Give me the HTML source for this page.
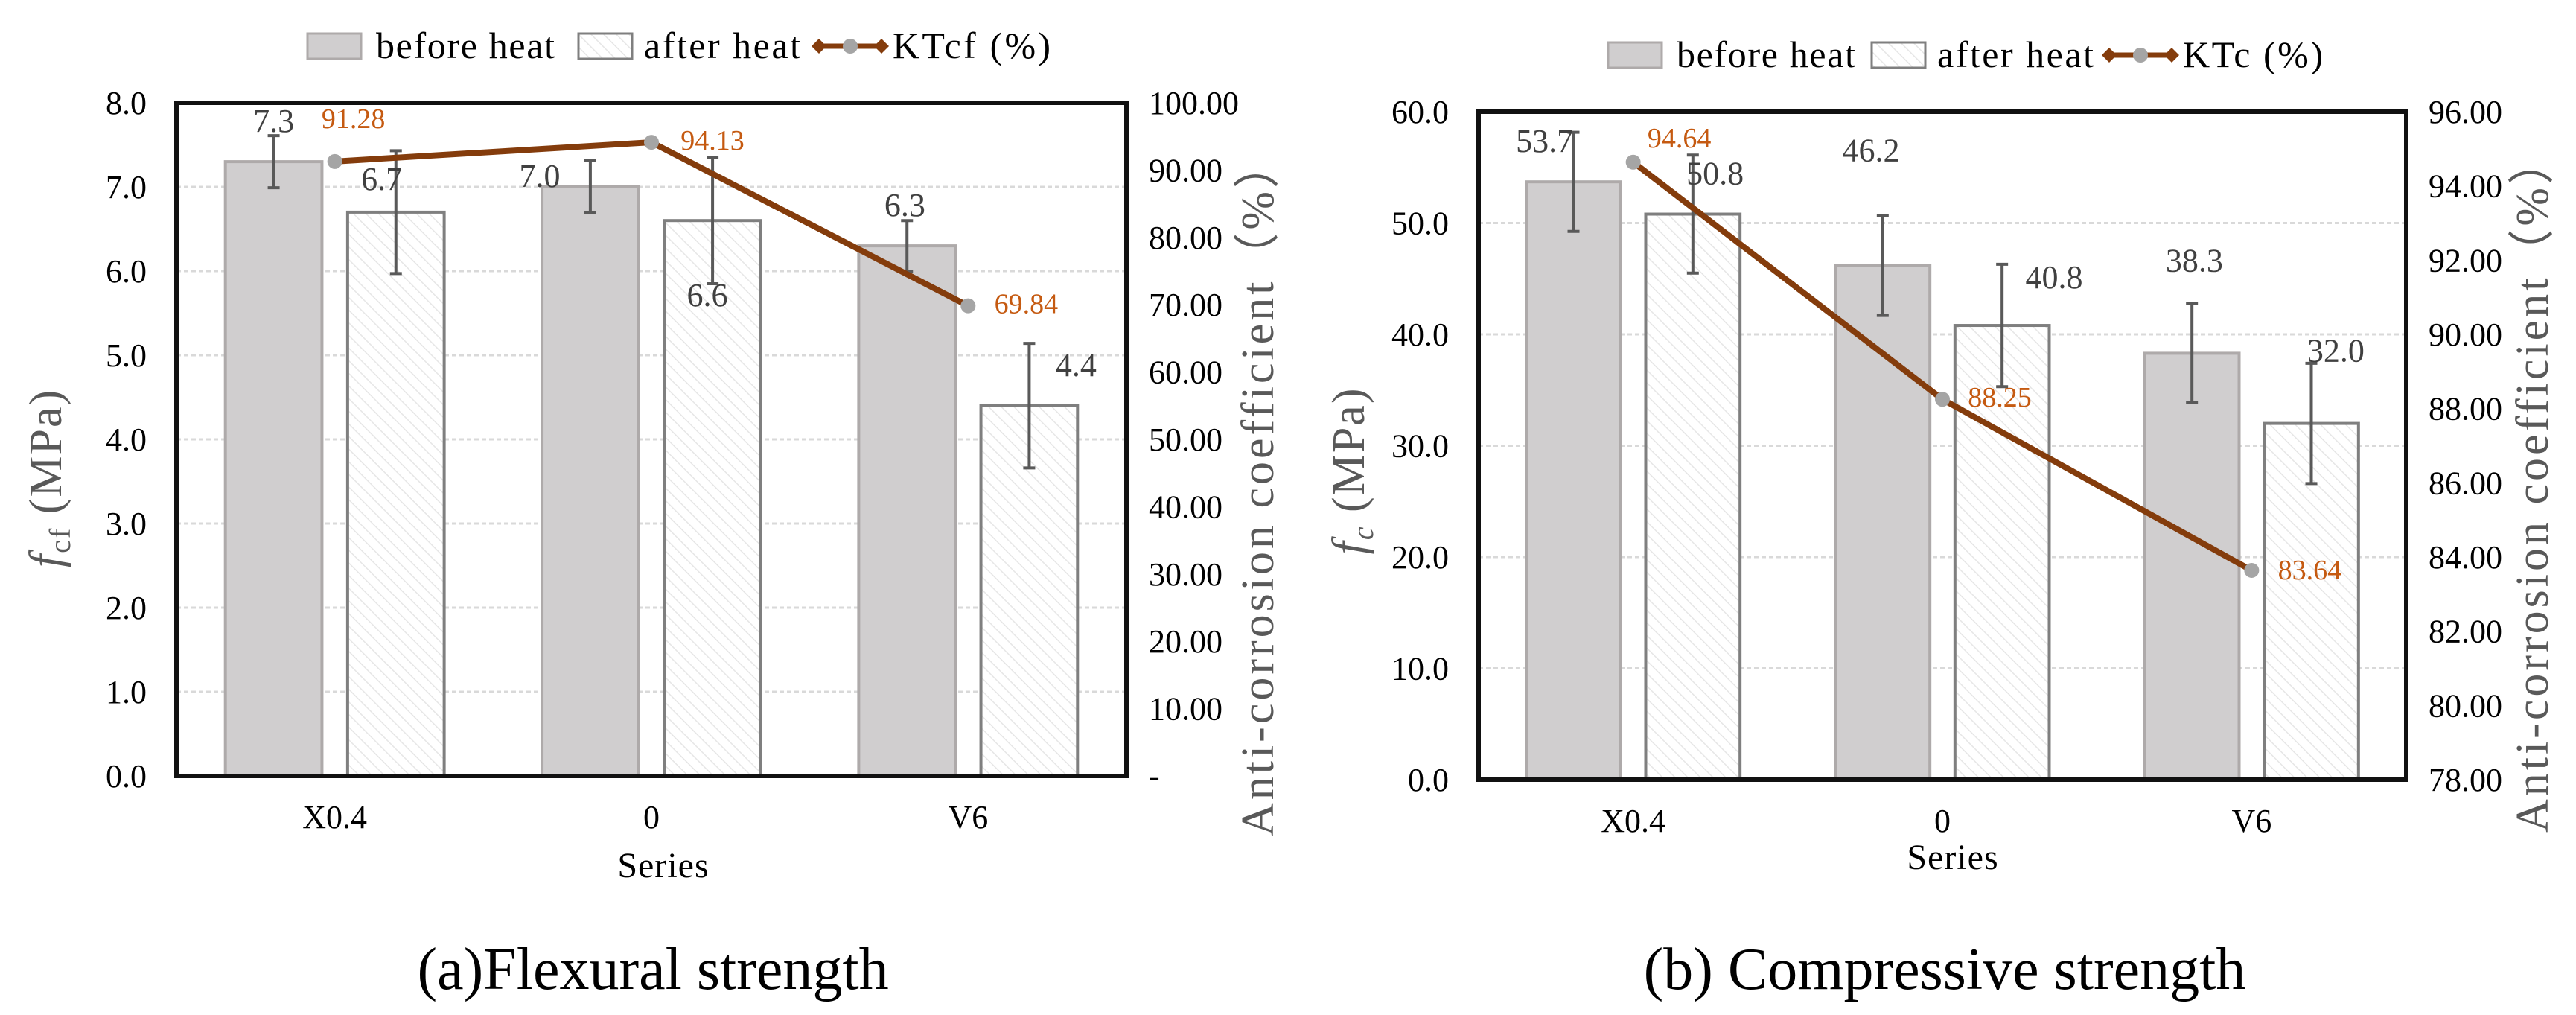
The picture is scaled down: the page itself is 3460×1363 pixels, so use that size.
<!DOCTYPE html>
<html><head><meta charset="utf-8"><style>
html,body{margin:0;padding:0;background:#fff;}
svg, svg text{font-family:"Liberation Serif","Times New Roman",serif;}
</style></head><body>
<svg id="svg" width="3460" height="1358" viewBox="0 0 3460 1358" xmlns="http://www.w3.org/2000/svg" font-family="Liberation Serif, serif">
<defs>
<pattern id="hatch" patternUnits="userSpaceOnUse" width="12" height="12" patternTransform="rotate(-45)">
<rect width="12" height="12" fill="#fff"/><line x1="0" y1="0" x2="0" y2="12" stroke="#e6e6e6" stroke-width="3"/>
</pattern>
</defs>
</svg>
<script>
const categories = ["X0.4", "0", "V6"];
const flexBefore = [7.3, 7.0, 6.3];
const flexAfter = [6.7, 6.6, 4.4];
const flexBeforeErr = [0.31, 0.31, 0.30];
const flexAfterErr = [0.73, 0.75, 0.74];
const flexKT = [91.28, 94.13, 69.84];
const flexLeftTicks = [0, 1, 2, 3, 4, 5, 6, 7, 8];
const flexRightTicks = [0, 10, 20, 30, 40, 50, 60, 70, 80, 90, 100];
const compBefore = [53.7, 46.2, 38.3];
const compAfter = [50.8, 40.8, 32.0];
const compBeforeErr = [4.45, 4.5, 4.45];
const compAfterErr = [5.3, 5.5, 5.4];
const compKT = [94.64, 88.25, 83.64];
const compLeftTicks = [0, 10, 20, 30, 40, 50, 60];
const compRightTicks = [78, 80, 82, 84, 86, 88, 90, 92, 94, 96];

const NS = "http://www.w3.org/2000/svg";
const svg = document.getElementById("svg");
function mk(tag, attrs, parent, text) {
  const e = document.createElementNS(NS, tag);
  for (const k in attrs) e.setAttribute(k, attrs[k]);
  if (tag === "text") e.setAttribute("font-family", "Liberation Serif, Noto Serif CJK SC, serif");
  if (text !== undefined) e.textContent = text;
  (parent || svg).appendChild(e);
  return e;
}

function drawChart(cfg) {
  const g = mk("g", {});
  
  
  const {L, R, T, B} = cfg;
  const yL = v => B - (v - cfg.lMin) / (cfg.lMax - cfg.lMin) * (B - T);
  const yR = v => B - (v - cfg.rMin) / (cfg.rMax - cfg.rMin) * (B - T);
  const cw = (R - L) / categories.length;
  const xC = i => L + cw * (i + 0.5);
  const bw = cw * 0.305, off = cw * 0.193;

  cfg.lTicks.forEach(t => {
    if (t === cfg.lMin || t === cfg.lMax) return;
    const gl = mk("line", {x1: L, x2: R, y1: yL(t), y2: yL(t), stroke: "#d9d9d9", "stroke-width": 3, "stroke-dasharray": "6 4"}, g);
    
    
  });
  cfg.lTicks.forEach(t => {
    const tl = mk("text", {x: L - 40, y: yL(t) + 15, "text-anchor": "end", "font-size": 44, fill: "#000"}, g, t.toFixed(1));
    
    
  });
  cfg.rTicks.forEach(t => {
    const s = (t === 0) ? "-" : t.toFixed(2);
    const tl = mk("text", {x: R + 30, y: yR(t) + 15, "font-size": 44, fill: "#000"}, g, s);
    
    
  });
  categories.forEach((c, i) => {
    const b1 = cfg.before[i], b2 = cfg.after[i];
    const r1 = mk("rect", {x: xC(i) - off - bw / 2, y: yL(b1), width: bw, height: yL(cfg.lMin) - yL(b1), fill: "#d0cecf", stroke: "#aeaaaa", "stroke-width": 4}, g);
    
    
    const r2 = mk("rect", {x: xC(i) + off - bw / 2, y: yL(b2), width: bw, height: yL(cfg.lMin) - yL(b2), fill: "url(#hatch)", stroke: "#7f7f7f", "stroke-width": 4}, g);
    
    
  });
  categories.forEach((c, i) => {
    [[xC(i) - off, cfg.before[i], cfg.beforeErr[i]], [xC(i) + off, cfg.after[i], cfg.afterErr[i]]].forEach(([x, v, e]) => {
      const eg = mk("g", {stroke: "#595959", "stroke-width": 4}, g);
      
      
      mk("line", {x1: x, x2: x, y1: yL(v + e), y2: yL(v - e)}, eg);
      mk("line", {x1: x - 8, x2: x + 8, y1: yL(v + e), y2: yL(v + e)}, eg);
      mk("line", {x1: x - 8, x2: x + 8, y1: yL(v - e), y2: yL(v - e)}, eg);
    });
  });
  categories.forEach((c, i) => {
    const p = cfg.beforeLbl[i], q = cfg.afterLbl[i];
    const t1 = mk("text", {x: xC(i) + p[0], y: yL(cfg.before[i]) + p[1], "text-anchor": "middle", "font-size": 44, fill: "#404040"}, g, cfg.before[i].toFixed(1));
    
    
    const t2 = mk("text", {x: xC(i) + q[0], y: yL(cfg.after[i]) + q[1], "text-anchor": "middle", "font-size": 44, fill: "#404040"}, g, cfg.after[i].toFixed(1));
    
    
  });
  const pts = cfg.kt.map((v, i) => xC(i) + "," + yR(v)).join(" ");
  const pl = mk("polyline", {points: pts, fill: "none", stroke: "#843c0c", "stroke-width": 8}, g);
  
  
  cfg.kt.forEach((v, i) => {
    const m = mk("circle", {cx: xC(i), cy: yR(v), r: 10, fill: "#a5a5a5"}, g);
    
    
    const lp = cfg.ktLbl[i];
    const t = mk("text", {x: xC(i) + lp[0], y: yR(v) + lp[1], "text-anchor": "middle", "font-size": 38, fill: "#c55a11"}, g, v.toFixed(2));
    
    
  });
  const fr = mk("rect", {x: L, y: T, width: R - L, height: B - T, fill: "none", stroke: "#111", "stroke-width": 6}, g);
  
  
  categories.forEach((c, i) => {
    const t = mk("text", {x: xC(i), y: B + 70, "text-anchor": "middle", "font-size": 44}, g, c);
    
    
  });
  const xt = mk("text", {x: cfg.seriesX, y: cfg.seriesY, "text-anchor": "middle", "font-size": 48, "letter-spacing": 1}, g, "Series");
  
  
  const yt = mk("text", {transform: `translate(${cfg.lTitleX},${cfg.lTitleY}) rotate(-90)`, "text-anchor": "middle", "font-size": 62, fill: "#595959", "letter-spacing": 2}, g);
  
  
  mk("tspan", {"font-style": "italic"}, yt, "f");
  mk("tspan", {"font-size": 40, dy: 12, "font-style": cfg.subItalic ? "italic" : "normal"}, yt, cfg.sub);
  mk("tspan", {dy: -12}, yt, " (MPa)");
  const rt = mk("text", {transform: `translate(${cfg.rTitleX},${cfg.rTitleY}) rotate(-90)`, "text-anchor": "middle", "font-size": 62, fill: "#595959", "letter-spacing": 4}, g, "Anti-corrosion coefficient（%）");
  
  
  const lg = mk("g", {}, g);
  
  
  const ly = cfg.legY;
  const e1 = mk("rect", {x: cfg.leg[0], y: ly - 17, width: 72, height: 34, fill: "#d0cecf", stroke: "#aeaaaa", "stroke-width": 3}, lg);
  
  
  const l1 = mk("text", {x: cfg.leg[0] + 92, y: ly + 16, "font-size": 50, textLength: 240}, lg, "before heat");
  
  
  const e2 = mk("rect", {x: cfg.leg[1], y: ly - 17, width: 72, height: 34, fill: "url(#hatch)", stroke: "#7f7f7f", "stroke-width": 3}, lg);
  
  
  const l2 = mk("text", {x: cfg.leg[1] + 88, y: ly + 16, "font-size": 50, textLength: 210}, lg, "after heat");
  
  
  const lx = cfg.leg[2];
  const e3 = mk("g", {}, lg);
  
  
  mk("line", {x1: lx, x2: lx + 96, y1: ly, y2: ly, stroke: "#843c0c", "stroke-width": 7}, e3);
  mk("path", {d: `M${lx - 4} ${ly} l10 -10 l10 10 l-10 10z M${lx + 80} ${ly} l10 -10 l10 10 l-10 10z`, fill: "#843c0c"}, e3);
  mk("circle", {cx: lx + 48, cy: ly, r: 10, fill: "#a5a5a5"}, e3);
  const l3 = mk("text", {x: lx + 105, y: ly + 16, "font-size": 50, textLength: cfg.ktTextLen}, lg, cfg.ktName + " (%)");
  
  
  const cap = mk("text", {x: cfg.capX, y: 1328, "text-anchor": "middle", "font-size": 80}, g, cfg.caption);
  
  
}

drawChart({
  name: "flexural-chart", L: 237, R: 1513, T: 138, B: 1042,
  lMin: 0, lMax: 8, rMin: 0, rMax: 100,
  lTicks: flexLeftTicks, rTicks: flexRightTicks,
  before: flexBefore, after: flexAfter, beforeErr: flexBeforeErr, afterErr: flexAfterErr, kt: flexKT,
  beforeLbl: [[-82, -40], [-150, 0], [-85, -40]], afterLbl: [[63, -30], [75, 115], [145, -40]],
  ktLbl: [[25, -45], [82, 10], [78, 10]],
  seriesX: 891, seriesY: 1178, lTitleX: 82, lTitleY: 642, rTitleX: 1710, rTitleY: 655, sub: "cf", subItalic: false,
  legY: 62, leg: [413, 777, 1094], ktName: "KTcf", ktTextLen: 212,
  capX: 877, caption: "(a)Flexural strength"
});
drawChart({
  name: "compressive-chart", L: 1986, R: 3232, T: 150, B: 1047,
  lMin: 0, lMax: 60, rMin: 78, rMax: 96,
  lTicks: compLeftTicks, rTicks: compRightTicks,
  before: compBefore, after: compAfter, beforeErr: compBeforeErr, afterErr: compAfterErr, kt: compKT,
  beforeLbl: [[-119, -40], [-96, -140], [-77, -110]], afterLbl: [[110, -40], [150, -50], [113, -83]],
  ktLbl: [[62, -20], [77, 10], [78, 12]],
  seriesX: 2623, seriesY: 1167, lTitleX: 1832, lTitleY: 632, rTitleX: 3422, rTitleY: 650, sub: "c", subItalic: true,
  legY: 74, leg: [2160, 2514, 2827], ktName: "KTc", ktTextLen: 188,
  capX: 2612, caption: "(b) Compressive strength"
});
</script>
</body></html>
